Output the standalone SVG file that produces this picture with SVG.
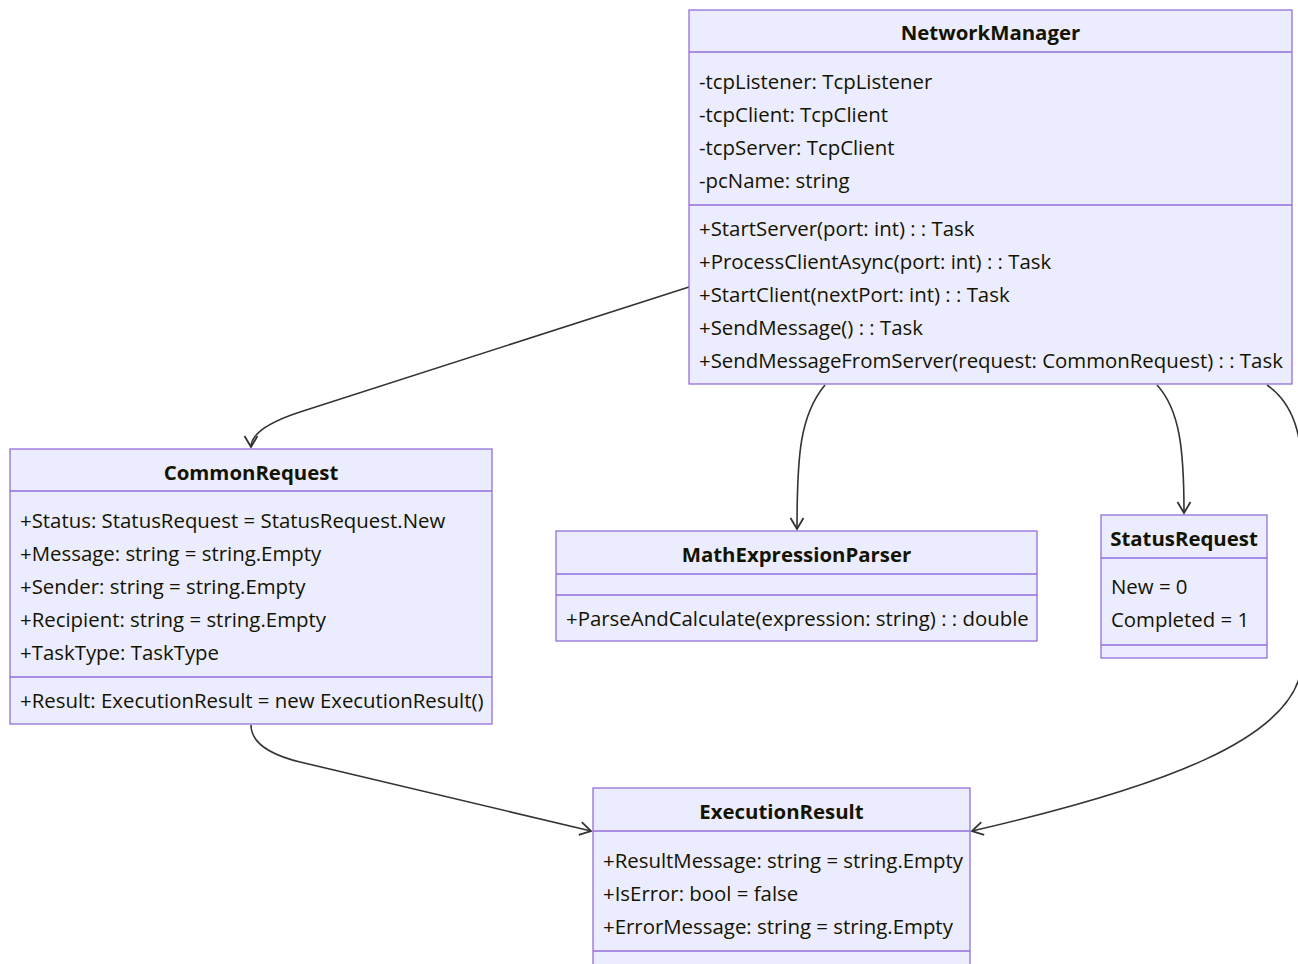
<svg xmlns="http://www.w3.org/2000/svg" width="1298" height="964" viewBox="0 0 1298 964">
  <style>
    .box { fill: #ECECFF; stroke: #9370DB; stroke-width: 1.3; }
    .div { stroke: #9370DB; stroke-width: 1.3; }
    .title { font-family: "Open Sans", "Noto Sans", sans-serif; font-size: 20.4px; font-weight: bold; fill: #131300; text-anchor: middle; }
    .txt { font-family: "Open Sans", "Noto Sans", sans-serif; font-size: 20.4px; fill: #131300; }
    .edge { fill: none; stroke: #333333; stroke-width: 1.6; marker-end: url(#arrow); }
  </style>
  <defs>
    <marker id="arrow" markerUnits="userSpaceOnUse" markerWidth="16" markerHeight="16" refX="12" refY="8" orient="auto">
      <path d="M1,1.5 L12,8 L1,14.5" fill="none" stroke="#333333" stroke-width="1.8"/>
    </marker>
  </defs>
  <rect width="1298" height="964" fill="#FFFFFF"/>

  <!-- connectors -->
  <g id="connectors">
    <path class="edge" d="M689,287 L300,412 Q251,428 251,447"/>
    <path class="edge" d="M825,385 C800,415 797,455 797,529"/>
    <path class="edge" d="M1157,385 C1180,410 1184,450 1184,513"/>
    <path class="edge" d="M1267,385 C1310,415 1302,470 1302,560 L1302,660 C1302,740 1150,790 972,831"/>
    <path class="edge" d="M251,725 Q251,750 300,762 L591,831"/>
  </g>

  <!-- NetworkManager -->
  <g id="NetworkManager">
    <rect class="box" x="689" y="10" width="603" height="374"/>
    <line class="div" x1="689" y1="52" x2="1292" y2="52"/>
    <line class="div" x1="689" y1="205" x2="1292" y2="205"/>
    <text class="title" x="990.5" y="40">NetworkManager</text>
    <text class="txt" x="699" y="89">-tcpListener: TcpListener</text>
    <text class="txt" x="699" y="122">-tcpClient: TcpClient</text>
    <text class="txt" x="699" y="155">-tcpServer: TcpClient</text>
    <text class="txt" x="699" y="188">-pcName: string</text>
    <text class="txt" x="699" y="236">+StartServer(port: int) : : Task</text>
    <text class="txt" x="699" y="269">+ProcessClientAsync(port: int) : : Task</text>
    <text class="txt" x="699" y="302">+StartClient(nextPort: int) : : Task</text>
    <text class="txt" x="699" y="335">+SendMessage() : : Task</text>
    <text class="txt" x="699" y="368">+SendMessageFromServer(request: CommonRequest) : : Task</text>
  </g>

  <!-- CommonRequest -->
  <g id="CommonRequest">
    <rect class="box" x="10" y="449" width="482" height="275"/>
    <line class="div" x1="10" y1="491" x2="492" y2="491"/>
    <line class="div" x1="10" y1="677" x2="492" y2="677"/>
    <text class="title" x="251" y="480">CommonRequest</text>
    <text class="txt" x="20" y="528">+Status: StatusRequest = StatusRequest.New</text>
    <text class="txt" x="20" y="561">+Message: string = string.Empty</text>
    <text class="txt" x="20" y="594">+Sender: string = string.Empty</text>
    <text class="txt" x="20" y="627">+Recipient: string = string.Empty</text>
    <text class="txt" x="20" y="660">+TaskType: TaskType</text>
    <text class="txt" x="20" y="708">+Result: ExecutionResult = new ExecutionResult()</text>
  </g>

  <!-- MathExpressionParser -->
  <g id="MathExpressionParser">
    <rect class="box" x="556" y="531" width="481" height="110"/>
    <line class="div" x1="556" y1="574" x2="1037" y2="574"/>
    <line class="div" x1="556" y1="595" x2="1037" y2="595"/>
    <text class="title" x="796.5" y="562">MathExpressionParser</text>
    <text class="txt" x="566" y="626">+ParseAndCalculate(expression: string) : : double</text>
  </g>

  <!-- StatusRequest -->
  <g id="StatusRequest">
    <rect class="box" x="1101" y="515" width="166" height="143"/>
    <line class="div" x1="1101" y1="558" x2="1267" y2="558"/>
    <line class="div" x1="1101" y1="645" x2="1267" y2="645"/>
    <text class="title" x="1184" y="546">StatusRequest</text>
    <text class="txt" x="1111" y="594">New = 0</text>
    <text class="txt" x="1111" y="627">Completed = 1</text>
  </g>

  <!-- ExecutionResult -->
  <g id="ExecutionResult">
    <rect class="box" x="593" y="788" width="377" height="190"/>
    <line class="div" x1="593" y1="831" x2="970" y2="831"/>
    <line class="div" x1="593" y1="951" x2="970" y2="951"/>
    <text class="title" x="781.5" y="819">ExecutionResult</text>
    <text class="txt" x="603" y="868">+ResultMessage: string = string.Empty</text>
    <text class="txt" x="603" y="901">+IsError: bool = false</text>
    <text class="txt" x="603" y="934">+ErrorMessage: string = string.Empty</text>
  </g>
</svg>
